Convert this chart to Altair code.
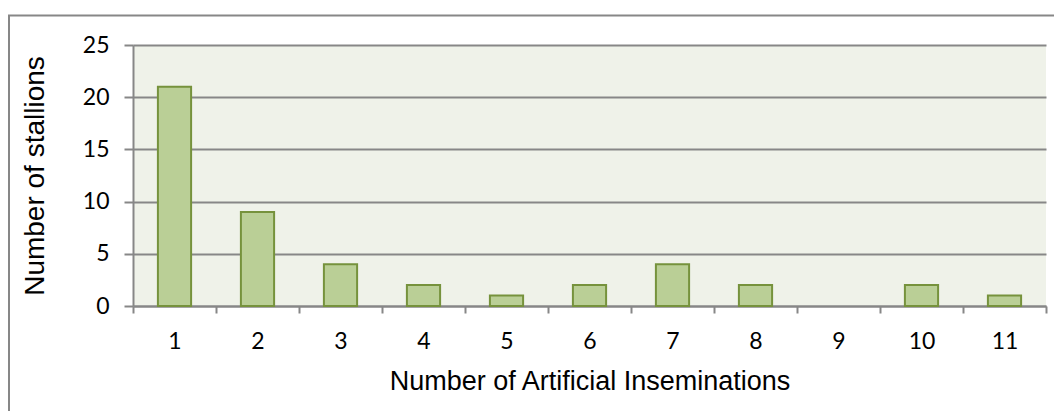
import altair as alt
import pandas as pd

categories = ["1", "2", "3", "4", "5", "6", "7", "8", "9", "10", "11"]
stallions = [21, 9, 4, 2, 1, 2, 4, 2, 0, 2, 1]
y_ticks = [0, 5, 10, 15, 20, 25]

df = pd.DataFrame({"ai": categories, "n": stallions})

GRAY = "#878787"
W, H = 913, 261

bars = alt.Chart(df).transform_filter(
    alt.datum.n > 0
).mark_bar(
    width=alt.RelativeBandSize(0.4),
    fill="#BACF96",
    stroke="#76923C",
    strokeWidth=2,
).encode(
    x=alt.X(
        "ai:O",
        sort=categories,
        scale=alt.Scale(domain=categories, paddingInner=0, paddingOuter=0),
        axis=alt.Axis(
            title="Number of Artificial Inseminations",
            labelAngle=0,
            tickBand="extent",
            tickSize=7,
            tickColor=GRAY,
            tickWidth=2,
            domainColor=GRAY,
            domainWidth=2,
            labelFont="Lato",
            labelFontSize=23,
            labelColor="#000000",
            labelPadding=17,
            titleFont="Liberation Sans",
            titleFontSize=27,
            titleFontWeight="normal",
            titleColor="#000000",
            titlePadding=15,
            grid=False,
        ),
    ),
    y=alt.Y(
        "n:Q",
        scale=alt.Scale(domain=[0, 25], nice=False),
        axis=alt.Axis(
            title="Number of stallions",
            values=y_ticks,
            tickSize=9,
            tickColor=GRAY,
            tickWidth=2,
            domainColor=GRAY,
            domainWidth=2,
            gridColor=GRAY,
            gridWidth=2,
            labelFont="Lato",
            labelFontSize=23,
            labelColor="#000000",
            labelPadding=15,
            titleFont="Liberation Sans",
            titleFontSize=28,
            titleFontWeight="normal",
            titleColor="#000000",
            titlePadding=33,
        ),
    ),
)

frame = pd.DataFrame({"k": [0]})
top_border = alt.Chart(frame).mark_rule(color=GRAY, strokeWidth=2).encode(
    x=alt.value(-125), x2=alt.value(W + 10), y=alt.value(-29.5)
)
left_border = alt.Chart(frame).mark_rule(color=GRAY, strokeWidth=2).encode(
    x=alt.value(-124), y=alt.value(-29.5), y2=alt.value(H + 200)
)

chart = alt.layer(bars, top_border, left_border).properties(
    width=W,
    height=H,
    autosize=alt.AutoSizeParams(type="none"),
    padding={"left": 125, "top": 37, "right": 8, "bottom": 105},
).configure_view(
    stroke=None, fill="#EFF2E9"
)

chart.save("out.html", embed_options={"renderer": "svg", "actions": False})
